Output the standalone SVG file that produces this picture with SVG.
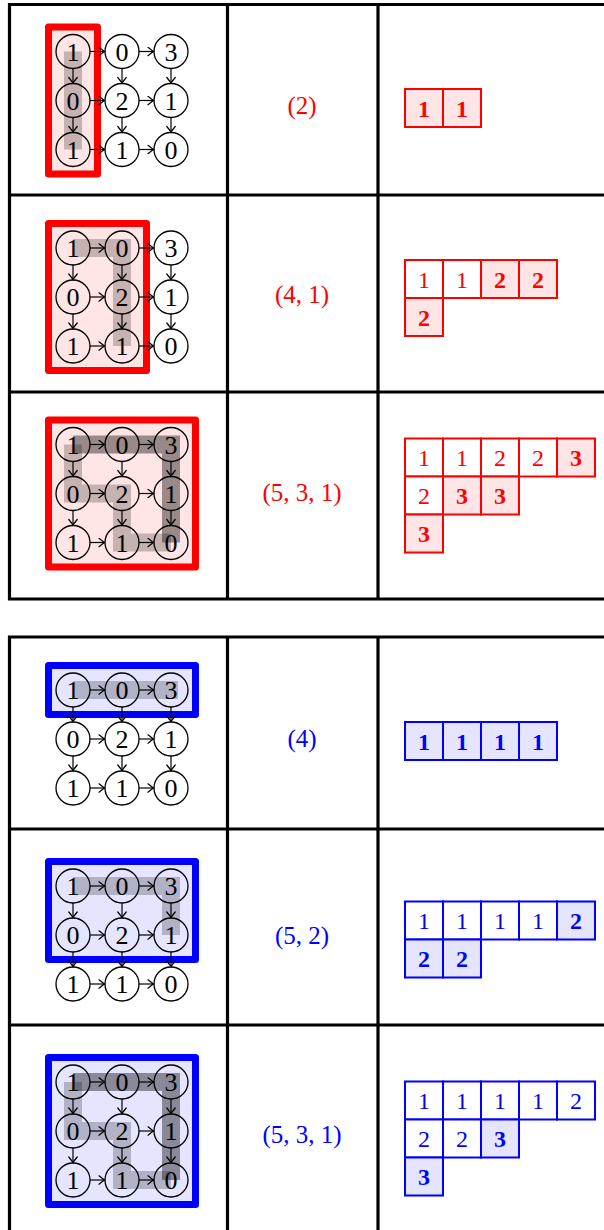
<svg xmlns="http://www.w3.org/2000/svg" width="604" height="1230" viewBox="0 0 604 1230">
<defs>
<style>
.tl{stroke:#000;stroke-width:3.2;fill:none;stroke-linecap:square}
.rbox{fill:#ffe5e5;stroke:#f00;stroke-width:7;stroke-linejoin:round}
.bbox{fill:#e5e5ff;stroke:#00f;stroke-width:7;stroke-linejoin:round}
.lp{fill:none;stroke:#000;stroke-opacity:0.22;stroke-width:18;stroke-linejoin:miter}
.dp{fill:none;stroke:#000;stroke-opacity:0.4;stroke-width:18;stroke-linejoin:miter}
.nc{fill:none;stroke:#000;stroke-width:1.3}
.nt{font-family:"Liberation Serif",serif;font-size:26px;text-anchor:middle;fill:#000}
.ar{stroke:#000;stroke-width:1.2;fill:none;marker-end:url(#ah)}
.lab{font-family:"Liberation Serif",serif;font-size:25px;text-anchor:middle}
.red{fill:#f00}
.blue{fill:#00f}
.rc{fill:#fff;stroke:#f00;stroke-width:2}
.rcf{fill:#ffe5e5;stroke:#f00;stroke-width:2}
.bc{fill:#fff;stroke:#00f;stroke-width:2}
.bcf{fill:#e5e5ff;stroke:#00f;stroke-width:2}
.ct{font-family:"Liberation Serif",serif;font-size:24px;text-anchor:middle}
.b{font-weight:bold}
</style>
<marker id="ah" viewBox="-7 -5 8 10" markerWidth="8" markerHeight="10" refX="0" refY="0" orient="auto" markerUnits="userSpaceOnUse">
<path d="M-5.5,-4.2 Q-1.5,-1 0,0 Q-1.5,1 -5.5,4.2" fill="none" stroke="#000" stroke-width="1.25" stroke-linecap="round"/>
</marker>
</defs>
<rect width="604" height="1230" fill="#fff"/>

<g id="table">
<path class="tl" d="M9.5 4.5H604M9.5 195H604M9.5 392H604M9.5 599H604M9.5 4.5V599M227.5 4.5V599M378 4.5V599"/>
<path class="tl" d="M9.5 637H604M9.5 829H604M9.5 1025H604M9.5 637V1232M227.5 637V1232M378 637V1232"/>
</g>

<!-- Panel 1 -->
<g id="panel1" transform="translate(0,51.5)">
<rect class="rbox" x="48.5" y="-24.5" width="49" height="147"/>
<path class="lp" d="M73 0V98"/>
<g id="p1n00"><circle class="nc" cx="73" cy="0" r="17"/><text class="nt" x="73" y="9">1</text></g>
<g id="p1n01"><circle class="nc" cx="122" cy="0" r="17"/><text class="nt" x="122" y="9">0</text></g>
<g id="p1n02"><circle class="nc" cx="171" cy="0" r="17"/><text class="nt" x="171" y="9">3</text></g>
<g id="p1n10"><circle class="nc" cx="73" cy="49" r="17"/><text class="nt" x="73" y="58">0</text></g>
<g id="p1n11"><circle class="nc" cx="122" cy="49" r="17"/><text class="nt" x="122" y="58">2</text></g>
<g id="p1n12"><circle class="nc" cx="171" cy="49" r="17"/><text class="nt" x="171" y="58">1</text></g>
<g id="p1n20"><circle class="nc" cx="73" cy="98" r="17"/><text class="nt" x="73" y="107">1</text></g>
<g id="p1n21"><circle class="nc" cx="122" cy="98" r="17"/><text class="nt" x="122" y="107">1</text></g>
<g id="p1n22"><circle class="nc" cx="171" cy="98" r="17"/><text class="nt" x="171" y="107">0</text></g>
<g id="p1edges">
<path class="ar" d="M90 0H104.5"/><path class="ar" d="M139 0H153.5"/>
<path class="ar" d="M90 49H104.5"/><path class="ar" d="M139 49H153.5"/>
<path class="ar" d="M90 98H104.5"/><path class="ar" d="M139 98H153.5"/>
<path class="ar" d="M73 17V31.5"/><path class="ar" d="M122 17V31.5"/><path class="ar" d="M171 17V31.5"/>
<path class="ar" d="M73 66V80.5"/><path class="ar" d="M122 66V80.5"/><path class="ar" d="M171 66V80.5"/>
</g>
</g>

<!-- Panel 2 -->
<g id="panel2" transform="translate(0,248)">
<rect class="rbox" x="48.5" y="-24.5" width="98" height="147"/>
<path class="lp" d="M73 0H122V98"/>
<g id="p2n00"><circle class="nc" cx="73" cy="0" r="17"/><text class="nt" x="73" y="9">1</text></g>
<g id="p2n01"><circle class="nc" cx="122" cy="0" r="17"/><text class="nt" x="122" y="9">0</text></g>
<g id="p2n02"><circle class="nc" cx="171" cy="0" r="17"/><text class="nt" x="171" y="9">3</text></g>
<g id="p2n10"><circle class="nc" cx="73" cy="49" r="17"/><text class="nt" x="73" y="58">0</text></g>
<g id="p2n11"><circle class="nc" cx="122" cy="49" r="17"/><text class="nt" x="122" y="58">2</text></g>
<g id="p2n12"><circle class="nc" cx="171" cy="49" r="17"/><text class="nt" x="171" y="58">1</text></g>
<g id="p2n20"><circle class="nc" cx="73" cy="98" r="17"/><text class="nt" x="73" y="107">1</text></g>
<g id="p2n21"><circle class="nc" cx="122" cy="98" r="17"/><text class="nt" x="122" y="107">1</text></g>
<g id="p2n22"><circle class="nc" cx="171" cy="98" r="17"/><text class="nt" x="171" y="107">0</text></g>
<g id="p2edges">
<path class="ar" d="M90 0H104.5"/><path class="ar" d="M139 0H153.5"/>
<path class="ar" d="M90 49H104.5"/><path class="ar" d="M139 49H153.5"/>
<path class="ar" d="M90 98H104.5"/><path class="ar" d="M139 98H153.5"/>
<path class="ar" d="M73 17V31.5"/><path class="ar" d="M122 17V31.5"/><path class="ar" d="M171 17V31.5"/>
<path class="ar" d="M73 66V80.5"/><path class="ar" d="M122 66V80.5"/><path class="ar" d="M171 66V80.5"/>
</g>
</g>

<!-- Panel 3 -->
<g id="panel3" transform="translate(0,444.5)">
<rect class="rbox" x="48.5" y="-24.5" width="147" height="147"/>
<path class="dp" d="M73 0H171V98"/>
<path class="lp" d="M73 0V49H122V98H171"/>
<g id="p3n00"><circle class="nc" cx="73" cy="0" r="17"/><text class="nt" x="73" y="9">1</text></g>
<g id="p3n01"><circle class="nc" cx="122" cy="0" r="17"/><text class="nt" x="122" y="9">0</text></g>
<g id="p3n02"><circle class="nc" cx="171" cy="0" r="17"/><text class="nt" x="171" y="9">3</text></g>
<g id="p3n10"><circle class="nc" cx="73" cy="49" r="17"/><text class="nt" x="73" y="58">0</text></g>
<g id="p3n11"><circle class="nc" cx="122" cy="49" r="17"/><text class="nt" x="122" y="58">2</text></g>
<g id="p3n12"><circle class="nc" cx="171" cy="49" r="17"/><text class="nt" x="171" y="58">1</text></g>
<g id="p3n20"><circle class="nc" cx="73" cy="98" r="17"/><text class="nt" x="73" y="107">1</text></g>
<g id="p3n21"><circle class="nc" cx="122" cy="98" r="17"/><text class="nt" x="122" y="107">1</text></g>
<g id="p3n22"><circle class="nc" cx="171" cy="98" r="17"/><text class="nt" x="171" y="107">0</text></g>
<g id="p3edges">
<path class="ar" d="M90 0H104.5"/><path class="ar" d="M139 0H153.5"/>
<path class="ar" d="M90 49H104.5"/><path class="ar" d="M139 49H153.5"/>
<path class="ar" d="M90 98H104.5"/><path class="ar" d="M139 98H153.5"/>
<path class="ar" d="M73 17V31.5"/><path class="ar" d="M122 17V31.5"/><path class="ar" d="M171 17V31.5"/>
<path class="ar" d="M73 66V80.5"/><path class="ar" d="M122 66V80.5"/><path class="ar" d="M171 66V80.5"/>
</g>
</g>

<!-- Panel 4 -->
<g id="panel4" transform="translate(0,690)">
<rect class="bbox" x="48.5" y="-24.5" width="147" height="49"/>
<path class="lp" d="M73 0H178"/>
<g id="p4n00"><circle class="nc" cx="73" cy="0" r="17"/><text class="nt" x="73" y="9">1</text></g>
<g id="p4n01"><circle class="nc" cx="122" cy="0" r="17"/><text class="nt" x="122" y="9">0</text></g>
<g id="p4n02"><circle class="nc" cx="171" cy="0" r="17"/><text class="nt" x="171" y="9">3</text></g>
<g id="p4n10"><circle class="nc" cx="73" cy="49" r="17"/><text class="nt" x="73" y="58">0</text></g>
<g id="p4n11"><circle class="nc" cx="122" cy="49" r="17"/><text class="nt" x="122" y="58">2</text></g>
<g id="p4n12"><circle class="nc" cx="171" cy="49" r="17"/><text class="nt" x="171" y="58">1</text></g>
<g id="p4n20"><circle class="nc" cx="73" cy="98" r="17"/><text class="nt" x="73" y="107">1</text></g>
<g id="p4n21"><circle class="nc" cx="122" cy="98" r="17"/><text class="nt" x="122" y="107">1</text></g>
<g id="p4n22"><circle class="nc" cx="171" cy="98" r="17"/><text class="nt" x="171" y="107">0</text></g>
<g id="p4edges">
<path class="ar" d="M90 0H104.5"/><path class="ar" d="M139 0H153.5"/>
<path class="ar" d="M90 49H104.5"/><path class="ar" d="M139 49H153.5"/>
<path class="ar" d="M90 98H104.5"/><path class="ar" d="M139 98H153.5"/>
<path class="ar" d="M73 17V31.5"/><path class="ar" d="M122 17V31.5"/><path class="ar" d="M171 17V31.5"/>
<path class="ar" d="M73 66V80.5"/><path class="ar" d="M122 66V80.5"/><path class="ar" d="M171 66V80.5"/>
</g>
</g>

<!-- Panel 5 -->
<g id="panel5" transform="translate(0,886)">
<rect class="bbox" x="48.5" y="-24.5" width="147" height="98"/>
<path class="lp" d="M73 0H171V49"/>
<g id="p5n00"><circle class="nc" cx="73" cy="0" r="17"/><text class="nt" x="73" y="9">1</text></g>
<g id="p5n01"><circle class="nc" cx="122" cy="0" r="17"/><text class="nt" x="122" y="9">0</text></g>
<g id="p5n02"><circle class="nc" cx="171" cy="0" r="17"/><text class="nt" x="171" y="9">3</text></g>
<g id="p5n10"><circle class="nc" cx="73" cy="49" r="17"/><text class="nt" x="73" y="58">0</text></g>
<g id="p5n11"><circle class="nc" cx="122" cy="49" r="17"/><text class="nt" x="122" y="58">2</text></g>
<g id="p5n12"><circle class="nc" cx="171" cy="49" r="17"/><text class="nt" x="171" y="58">1</text></g>
<g id="p5n20"><circle class="nc" cx="73" cy="98" r="17"/><text class="nt" x="73" y="107">1</text></g>
<g id="p5n21"><circle class="nc" cx="122" cy="98" r="17"/><text class="nt" x="122" y="107">1</text></g>
<g id="p5n22"><circle class="nc" cx="171" cy="98" r="17"/><text class="nt" x="171" y="107">0</text></g>
<g id="p5edges">
<path class="ar" d="M90 0H104.5"/><path class="ar" d="M139 0H153.5"/>
<path class="ar" d="M90 49H104.5"/><path class="ar" d="M139 49H153.5"/>
<path class="ar" d="M90 98H104.5"/><path class="ar" d="M139 98H153.5"/>
<path class="ar" d="M73 17V31.5"/><path class="ar" d="M122 17V31.5"/><path class="ar" d="M171 17V31.5"/>
<path class="ar" d="M73 66V80.5"/><path class="ar" d="M122 66V80.5"/><path class="ar" d="M171 66V80.5"/>
</g>
</g>

<!-- Panel 6 -->
<g id="panel6" transform="translate(0,1082)">
<rect class="bbox" x="48.5" y="-24.5" width="147" height="147"/>
<path class="dp" d="M73 0H171V98"/>
<path class="lp" d="M73 0V49H122V98H171"/>
<g id="p6n00"><circle class="nc" cx="73" cy="0" r="17"/><text class="nt" x="73" y="9">1</text></g>
<g id="p6n01"><circle class="nc" cx="122" cy="0" r="17"/><text class="nt" x="122" y="9">0</text></g>
<g id="p6n02"><circle class="nc" cx="171" cy="0" r="17"/><text class="nt" x="171" y="9">3</text></g>
<g id="p6n10"><circle class="nc" cx="73" cy="49" r="17"/><text class="nt" x="73" y="58">0</text></g>
<g id="p6n11"><circle class="nc" cx="122" cy="49" r="17"/><text class="nt" x="122" y="58">2</text></g>
<g id="p6n12"><circle class="nc" cx="171" cy="49" r="17"/><text class="nt" x="171" y="58">1</text></g>
<g id="p6n20"><circle class="nc" cx="73" cy="98" r="17"/><text class="nt" x="73" y="107">1</text></g>
<g id="p6n21"><circle class="nc" cx="122" cy="98" r="17"/><text class="nt" x="122" y="107">1</text></g>
<g id="p6n22"><circle class="nc" cx="171" cy="98" r="17"/><text class="nt" x="171" y="107">0</text></g>
<g id="p6edges">
<path class="ar" d="M90 0H104.5"/><path class="ar" d="M139 0H153.5"/>
<path class="ar" d="M90 49H104.5"/><path class="ar" d="M139 49H153.5"/>
<path class="ar" d="M90 98H104.5"/><path class="ar" d="M139 98H153.5"/>
<path class="ar" d="M73 17V31.5"/><path class="ar" d="M122 17V31.5"/><path class="ar" d="M171 17V31.5"/>
<path class="ar" d="M73 66V80.5"/><path class="ar" d="M122 66V80.5"/><path class="ar" d="M171 66V80.5"/>
</g>
</g>

<!-- Middle labels -->
<g id="labels">
<text class="lab red" x="302" y="114">(2)</text>
<text class="lab red" x="302" y="303">(4, 1)</text>
<text class="lab red" x="302" y="501">(5, 3, 1)</text>
<text class="lab blue" x="302" y="747">(4)</text>
<text class="lab blue" x="302" y="944">(5, 2)</text>
<text class="lab blue" x="302" y="1143">(5, 3, 1)</text>
</g>

<!-- Tableau 1 -->
<g id="tableau1">
<rect class="rcf" x="405" y="89" width="38" height="38"/><rect class="rcf" x="443" y="89" width="38" height="38"/>
<text class="ct red b" x="424" y="116.5">1</text><text class="ct red b" x="462" y="116.5">1</text>
</g>

<!-- Tableau 2 -->
<g id="tableau2">
<rect class="rc" x="405" y="260" width="38" height="38"/><rect class="rc" x="443" y="260" width="38" height="38"/>
<rect class="rcf" x="481" y="260" width="38" height="38"/><rect class="rcf" x="519" y="260" width="38" height="38"/>
<rect class="rcf" x="405" y="298" width="38" height="38"/>
<text class="ct red" x="424" y="287.5">1</text><text class="ct red" x="462" y="287.5">1</text>
<text class="ct red b" x="500" y="287.5">2</text><text class="ct red b" x="538" y="287.5">2</text>
<text class="ct red b" x="424" y="325.5">2</text>
</g>

<!-- Tableau 3 -->
<g id="tableau3">
<rect class="rc" x="405" y="438.5" width="38" height="38"/><rect class="rc" x="443" y="438.5" width="38" height="38"/>
<rect class="rc" x="481" y="438.5" width="38" height="38"/><rect class="rc" x="519" y="438.5" width="38" height="38"/>
<rect class="rcf" x="557" y="438.5" width="38" height="38"/>
<rect class="rc" x="405" y="476.5" width="38" height="38"/><rect class="rcf" x="443" y="476.5" width="38" height="38"/>
<rect class="rcf" x="481" y="476.5" width="38" height="38"/>
<rect class="rcf" x="405" y="514.5" width="38" height="38"/>
<text class="ct red" x="424" y="466">1</text><text class="ct red" x="462" y="466">1</text>
<text class="ct red" x="500" y="466">2</text><text class="ct red" x="538" y="466">2</text>
<text class="ct red b" x="576" y="466">3</text>
<text class="ct red" x="424" y="504">2</text><text class="ct red b" x="462" y="504">3</text>
<text class="ct red b" x="500" y="504">3</text>
<text class="ct red b" x="424" y="542">3</text>
</g>

<!-- Tableau 4 -->
<g id="tableau4">
<rect class="bcf" x="405" y="722" width="38" height="38"/><rect class="bcf" x="443" y="722" width="38" height="38"/>
<rect class="bcf" x="481" y="722" width="38" height="38"/><rect class="bcf" x="519" y="722" width="38" height="38"/>
<text class="ct blue b" x="424" y="749.5">1</text><text class="ct blue b" x="462" y="749.5">1</text>
<text class="ct blue b" x="500" y="749.5">1</text><text class="ct blue b" x="538" y="749.5">1</text>
</g>

<!-- Tableau 5 -->
<g id="tableau5">
<rect class="bc" x="405" y="901.5" width="38" height="38"/><rect class="bc" x="443" y="901.5" width="38" height="38"/>
<rect class="bc" x="481" y="901.5" width="38" height="38"/><rect class="bc" x="519" y="901.5" width="38" height="38"/>
<rect class="bcf" x="557" y="901.5" width="38" height="38"/>
<rect class="bcf" x="405" y="939.5" width="38" height="38"/><rect class="bcf" x="443" y="939.5" width="38" height="38"/>
<text class="ct blue" x="424" y="929">1</text><text class="ct blue" x="462" y="929">1</text>
<text class="ct blue" x="500" y="929">1</text><text class="ct blue" x="538" y="929">1</text>
<text class="ct blue b" x="576" y="929">2</text>
<text class="ct blue b" x="424" y="967">2</text><text class="ct blue b" x="462" y="967">2</text>
</g>

<!-- Tableau 6 -->
<g id="tableau6">
<rect class="bc" x="405" y="1081.5" width="38" height="38"/><rect class="bc" x="443" y="1081.5" width="38" height="38"/>
<rect class="bc" x="481" y="1081.5" width="38" height="38"/><rect class="bc" x="519" y="1081.5" width="38" height="38"/>
<rect class="bc" x="557" y="1081.5" width="38" height="38"/>
<rect class="bc" x="405" y="1119.5" width="38" height="38"/><rect class="bc" x="443" y="1119.5" width="38" height="38"/>
<rect class="bcf" x="481" y="1119.5" width="38" height="38"/>
<rect class="bcf" x="405" y="1157.5" width="38" height="38"/>
<text class="ct blue" x="424" y="1109">1</text><text class="ct blue" x="462" y="1109">1</text>
<text class="ct blue" x="500" y="1109">1</text><text class="ct blue" x="538" y="1109">1</text>
<text class="ct blue" x="576" y="1109">2</text>
<text class="ct blue" x="424" y="1147">2</text><text class="ct blue" x="462" y="1147">2</text>
<text class="ct blue b" x="500" y="1147">3</text>
<text class="ct blue b" x="424" y="1185">3</text>
</g>
</svg>
